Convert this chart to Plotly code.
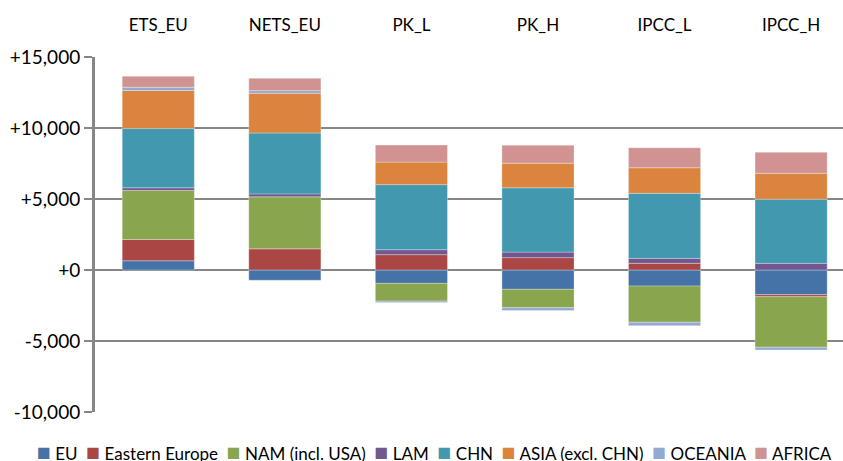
"""Stacked regional contributions per scenario."""

import plotly.graph_objects as go

scenarios = ["ETS_EU", "NETS_EU", "PK_L", "PK_H", "IPCC_L", "IPCC_H"]

eu = [650, -720, -940, -1360, -1130, -1740]
eastern_europe = [1500, 1490, 1080, 870, 470, -140]
nam = [3450, 3660, -1250, -1290, -2550, -3560]
lam = [190, 210, 350, 390, 350, 470]
chn = [4170, 4290, 4580, 4530, 4580, 4510]
asia = [2680, 2790, 1590, 1730, 1800, 1830]
oceania = [230, 190, -90, -210, -240, -190]
africa = [780, 870, 1200, 1270, 1410, 1480]

tick_values = [-10000, -5000, 0, 5000, 10000, 15000]
tick_labels = ["-10,000", "-5,000", "+0", "+5,000", "+10,000", "+15,000"]

series = [
    ("EU", eu, "#4572A7"),
    ("Eastern Europe", eastern_europe, "#AA4643"),
    ("NAM (incl. USA)", nam, "#89A54E"),
    ("LAM", lam, "#71588F"),
    ("CHN", chn, "#4198AF"),
    ("ASIA (excl. CHN)", asia, "#DB843D"),
    ("OCEANIA", oceania, "#93A9CF"),
    ("AFRICA", africa, "#D19392"),
]

fig = go.Figure()

for name, values, color in series:
    fig.add_trace(go.Bar(
        name=name,
        x=scenarios,
        y=values,
        showlegend=False,
        marker={"color": color, "line": {"color": "rgba(255,255,255,0.6)", "width": 0.5}},
    ))

# Compact Excel-style legend row (plotly's own legend is too wide to fit one line)
legend_text = "&nbsp;&nbsp;".join(
    f"<span style='color:{color};font-size:23px'>■</span>&nbsp;{name}"
    for name, _, color in series
)
fig.add_annotation(
    text=legend_text,
    xref="paper", yref="paper",
    x=0.4545, y=-0.066,
    xanchor="center", yanchor="top",
    showarrow=False,
    font={"size": 17},
)

fig.update_layout(
    barmode="relative",
    bargap=0.43,
    width=843,
    height=461,
    margin={"l": 95, "r": 0, "t": 57, "b": 49},
    paper_bgcolor="white",
    plot_bgcolor="white",
    font={"family": "Lato, 'Open Sans', sans-serif", "size": 15, "color": "#000000"},
    showlegend=False,
    xaxis={
        "side": "top",
        "range": [-0.5, 5.41],
        "showgrid": False,
        "showline": False,
        "ticks": "",
        "ticklabelstandoff": 22,
        "tickfont": {"size": 17},
        "automargin": False,
    },
    yaxis={
        "range": [-10000, 15000],
        "tickvals": tick_values,
        "ticktext": tick_labels,
        "showgrid": True,
        "gridcolor": "#868686",
        "gridwidth": 2,
        "zeroline": True,
        "zerolinecolor": "#868686",
        "zerolinewidth": 2,
        "showline": True,
        "linecolor": "#868686",
        "linewidth": 3,
        "ticks": "outside",
        "ticklen": 8,
        "tickwidth": 2,
        "tickcolor": "#868686",
        "tickfont": {"size": 19},
        "automargin": False,
    },
)

# drop the default page margin so the chart sits flush in the window
fig.write_html(
    "out.html",
    config={"displayModeBar": False},
    post_script="document.body.style.margin = '0';",
)
